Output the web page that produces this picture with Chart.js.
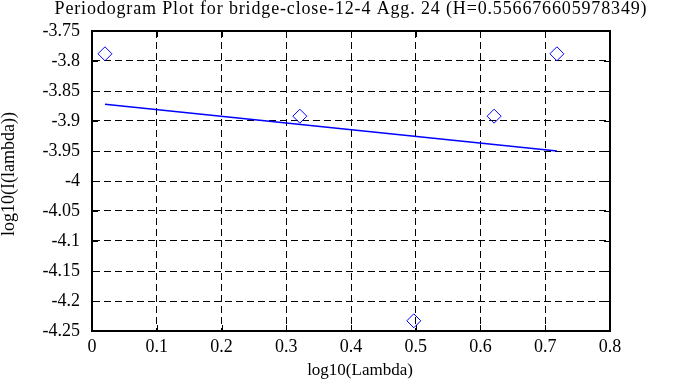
<!DOCTYPE html>
<html><head><meta charset="utf-8">
<script src="https://cdn.jsdelivr.net/npm/chart.js@4"></script>
<style>html,body{margin:0;padding:0;background:#fff}#wrap{width:698px;height:387px}</style>
</head><body><div id="wrap"><canvas id="c" width="698" height="387"></canvas></div>
<script>
const titleText = "Periodogram Plot for bridge-close-12-4 Agg. 24 (H=0.556676605978349)";
const xTitle = "log10(Lambda)";
const yTitle = "log10(I(lambda))";
const pointX = [0.020, 0.321, 0.497, 0.621, 0.718];
const pointY = [-3.788, -3.892, -4.233, -3.892, -3.788];
const fitX = [0.020, 0.718];
const fitY = [-3.872, -3.950];
const xMin = 0, xMax = 0.8, xStep = 0.1;
const yMin = -4.25, yMax = -3.75, yStep = 0.05;

const FONT = "'Liberation Serif', 'Times New Roman', serif";

const framePlugin = {
  id: 'frame',
  afterDraw(chart) {
    const {ctx, chartArea: a, scales: {x, y}} = chart;
    ctx.save();
    ctx.strokeStyle = '#000';
    ctx.lineWidth = 1;
    ctx.setLineDash([]);
    const L = 6;
    x.ticks.forEach(t => {
      const px = Math.round(x.getPixelForValue(t.value)) + 0.5;
      ctx.beginPath(); ctx.moveTo(px, a.top); ctx.lineTo(px, a.top + L); ctx.stroke();
      ctx.beginPath(); ctx.moveTo(px, a.bottom); ctx.lineTo(px, a.bottom - L); ctx.stroke();
    });
    y.ticks.forEach(t => {
      const py = Math.round(y.getPixelForValue(t.value)) + 0.5;
      ctx.beginPath(); ctx.moveTo(a.left, py); ctx.lineTo(a.left + L, py); ctx.stroke();
      ctx.beginPath(); ctx.moveTo(a.right, py); ctx.lineTo(a.right - L, py); ctx.stroke();
    });
    ctx.lineWidth = 2;
    ctx.strokeRect(a.left, a.top, a.right - a.left, a.bottom - a.top);

    // titles
    ctx.fillStyle = '#000';
    ctx.textAlign = 'center';
    ctx.textBaseline = 'alphabetic';
    ctx.font = "18px " + FONT;
    try { ctx.letterSpacing = '0.85px'; } catch (e) {}
    ctx.fillText(titleText, 351, 14);
    try { ctx.letterSpacing = '0px'; } catch (e) {}
    ctx.font = "17px " + FONT;
    ctx.fillText(xTitle, 360, 375);
    ctx.font = "18px " + FONT;
    ctx.translate(14, 174);
    ctx.rotate(-Math.PI / 2);
    ctx.fillText(yTitle, 0, 0);
    ctx.restore();
  }
};

new Chart(document.getElementById('c'), {
  type: 'scatter',
  data: {
    datasets: [
      {
        data: pointX.map((v, i) => ({x: v, y: pointY[i]})),
        pointStyle: 'rectRot', pointRadius: 7, pointHoverRadius: 7,
        borderColor: '#0000ff', backgroundColor: 'rgba(0,0,0,0)', borderWidth: 1,
        showLine: false
      },
      {
        data: fitX.map((v, i) => ({x: v, y: fitY[i]})),
        showLine: true, pointRadius: 0, borderColor: '#0000ff', borderWidth: 1.5, fill: false
      }
    ]
  },
  options: {
    responsive: false, animation: false, devicePixelRatio: 1,
    layout: {padding: {left: 0, right: 88, top: 31, bottom: 0}},
    plugins: {
      legend: {display: false}, tooltip: {enabled: false}, title: {display: false}
    },
    scales: {
      x: {
        type: 'linear', min: xMin, max: xMax,
        afterFit(s) { s.height = 56; },
        ticks: {stepSize: xStep, color: '#000', padding: 5, font: {family: FONT, size: 18},
          callback: v => Number(v.toFixed(2)).toString()},
        grid: {color: '#000', lineWidth: 1, drawTicks: false},
        border: {color: '#000', width: 2, dash: [7, 4]}
      },
      y: {
        type: 'linear', min: yMin, max: yMax,
        afterFit(s) { s.width = 92; },
        ticks: {stepSize: yStep, color: '#000', padding: 12, font: {family: FONT, size: 18},
          callback: v => Number(v.toFixed(2)).toString()},
        grid: {color: '#000', lineWidth: 1, drawTicks: false},
        border: {color: '#000', width: 2, dash: [7, 4]}
      }
    }
  },
  plugins: [framePlugin]
});
</script></body></html>
